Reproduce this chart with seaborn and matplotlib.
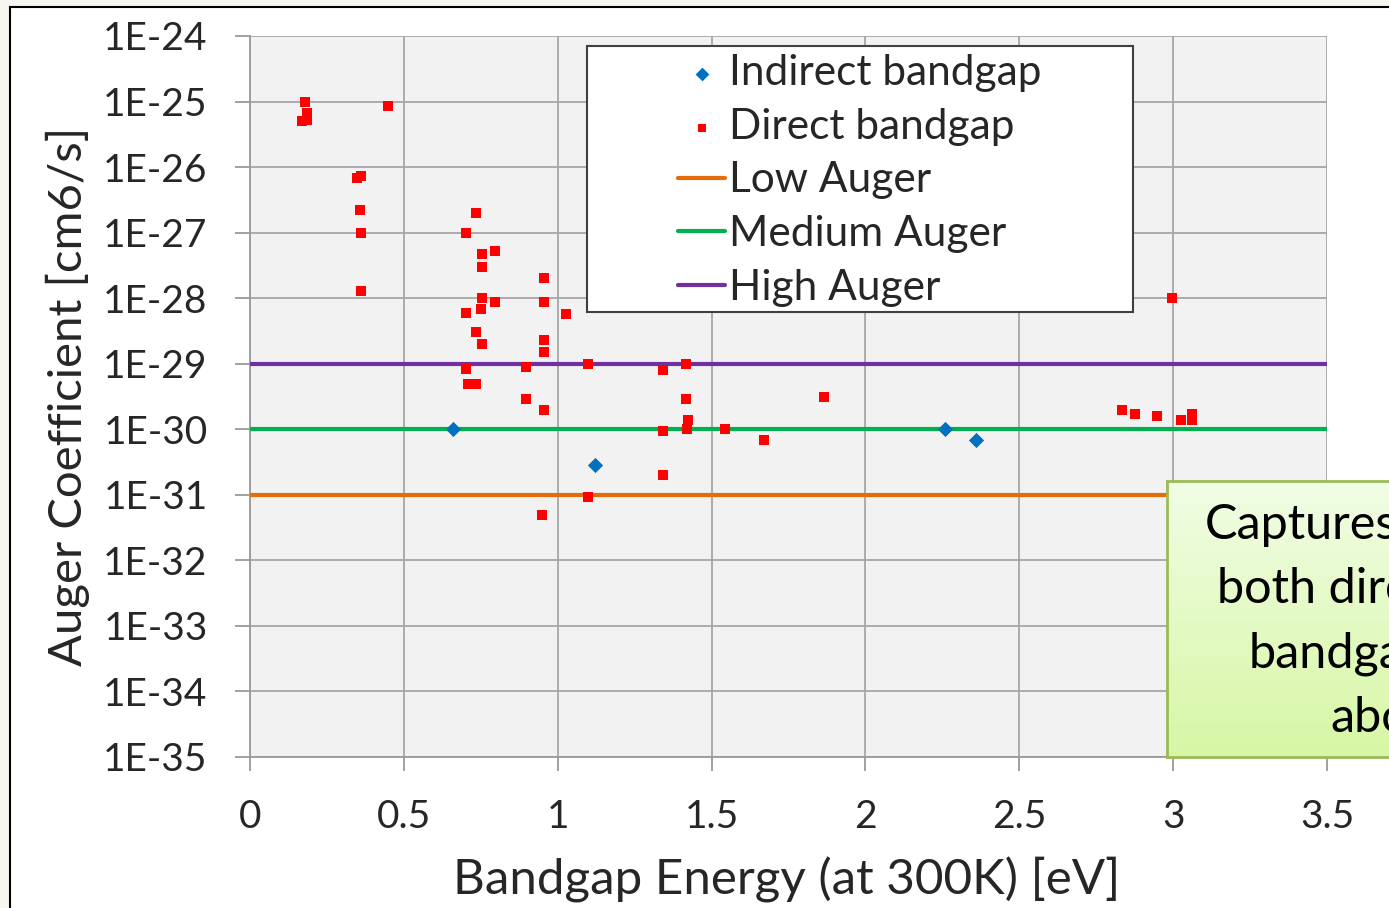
import numpy as np
import pandas as pd
import matplotlib
matplotlib.use("Agg")
import matplotlib.pyplot as plt
from matplotlib.patches import Rectangle
from matplotlib.ticker import FixedLocator, FuncFormatter
import seaborn as sns

# ---------------- data ----------------
indirect_x = [0.66, 1.12, 2.26, 2.36]
indirect_y = [1.0e-30, 2.9e-31, 1.0e-30, 6.8e-31]

direct_x = [0.18, 0.185, 0.17, 0.185, 0.45,
            0.347, 0.36, 0.357, 0.36, 0.36,
            0.736, 0.701, 0.754, 0.795, 0.754, 0.955, 0.754, 0.795, 0.955,
            0.701, 0.75, 1.028, 0.736, 0.754, 0.955, 0.955, 1.097, 0.701,
            0.897, 0.708, 0.735, 0.897, 0.955,
            1.341, 1.418, 1.418, 1.422, 1.42, 1.341, 1.545, 1.669, 1.341,
            1.097, 0.948, 1.865,
            2.995, 2.835, 2.875, 2.949, 3.025, 3.062, 3.062]
direct_y = [1.0e-25, 6.6e-26, 5.0e-26, 5.3e-26, 8.5e-26,
            6.7e-27, 7.2e-27, 2.2e-27, 1.0e-27, 1.3e-28,
            2.0e-27, 1.0e-27, 4.8e-28, 5.2e-28, 3.0e-28, 2.0e-28, 1.0e-28, 8.7e-29, 8.7e-29,
            6.0e-29, 6.9e-29, 5.8e-29, 3.0e-29, 2.0e-29, 2.3e-29, 1.5e-29, 1.0e-29, 8.3e-30,
            8.9e-30, 4.9e-30, 4.9e-30, 2.9e-30, 2.0e-30,
            8.1e-30, 1.0e-29, 2.9e-30, 1.4e-30, 1.0e-30, 9.3e-31, 1.0e-30, 6.8e-31, 2.0e-31,
            9.3e-32, 5.0e-32, 3.1e-30,
            1.0e-28, 2.0e-30, 1.7e-30, 1.6e-30, 1.4e-30, 1.7e-30, 1.4e-30]

level_names = ["Low Auger", "Medium Auger", "High Auger"]
level_values = [1e-31, 1e-30, 1e-29]
level_colors = ["#E46C0A", "#00B050", "#7030A0"]

x_ticks = [0, 0.5, 1, 1.5, 2, 2.5, 3, 3.5]
y_exponents = list(range(-35, -23))

callout_lines = ["Captures", "both direct", "bandgaps", "above"]

# ---------------- style ----------------
sns.set_style("white")
plt.rcParams["font.family"] = ["Lato", "DejaVu Sans"]

W, H = 1389, 908
fig = plt.figure(figsize=(W / 100, H / 100), dpi=100, facecolor="#f7f6f1")

# outer chart frame
fig.add_artist(Rectangle((10 / W, -0.05), 1.1, 1 - 7 / H + 0.05, transform=fig.transFigure,
                         facecolor="white", edgecolor="black", lw=1.5, zorder=-1))

L, R, T, B = 250, 1327, 36, 757
ax = fig.add_axes([L / W, 1 - B / H, (R - L) / W, (B - T) / H])
ax.set_facecolor("#f2f2f2")

ind_df = pd.DataFrame({"x": indirect_x, "y": indirect_y})
dir_df = pd.DataFrame({"x": direct_x, "y": direct_y})

sns.scatterplot(data=ind_df, x="x", y="y", ax=ax, marker="D", s=60, color="#0070C0",
                linewidth=0, label="Indirect bandgap", zorder=5)
sns.scatterplot(data=dir_df, x="x", y="y", ax=ax, marker="s", s=42, color="#FF0000",
                linewidth=0, label="Direct bandgap", zorder=6)
for name, val, col in zip(level_names, level_values, level_colors):
    sns.lineplot(x=[x_ticks[0], x_ticks[-1]], y=[val, val], ax=ax, color=col, lw=3,
                 label=name, zorder=4)

ax.set_yscale("log")
ax.set_xlim(0, 3.5)
ax.set_ylim(10.0 ** y_exponents[0], 10.0 ** y_exponents[-1])
ax.yaxis.set_major_locator(FixedLocator([10.0 ** e for e in y_exponents]))
ax.yaxis.set_minor_locator(FixedLocator([]))
ax.yaxis.set_major_formatter(FuncFormatter(lambda v, p: "1E%d" % int(round(np.log10(v)))))
ax.set_xticks(x_ticks)
ax.set_xticklabels(["%g" % t for t in x_ticks])

ax.grid(True, color="#a6a6a6", lw=1.3, zorder=0)
ax.set_axisbelow(True)
for s in ["top", "right"]:
    ax.spines[s].set_visible(False)
for s in ["left", "bottom"]:
    ax.spines[s].set_color("#9a9a9a")
    ax.spines[s].set_linewidth(1.3)

ax.tick_params(axis="y", which="major", direction="out", length=10.5, width=1.3,
               color="#9a9a9a", pad=20, labelsize=28, left=True)
ax.tick_params(axis="x", which="major", direction="out", length=10, width=1.3,
               color="#9a9a9a", pad=20, labelsize=28, bottom=True)

ax.set_xlabel("Bandgap Energy (at 300K) [eV]", fontsize=35.5)
ax.set_ylabel("Auger Coefficient [cm6/s]", fontsize=34)
ax.xaxis.set_label_coords(0.4986, -0.138)
ax.yaxis.set_label_coords(-0.169, 0.5)
ax.yaxis.label.set_va("center")

# legend with its own frame
fig.add_artist(Rectangle((587 / W, 1 - 312 / H), (1133 - 587) / W, (312 - 46) / H,
                         transform=fig.transFigure, facecolor="white", edgecolor="#404040",
                         lw=1.5, zorder=8))
leg = ax.legend(loc="upper left", bbox_to_anchor=(678 / W, 1 - 54 / H),
                bbox_transform=fig.transFigure, frameon=False, fontsize=30.5,
                handlelength=1.11, handletextpad=0.1, labelspacing=0.37,
                borderpad=0, borderaxespad=0, markerscale=0.9)
leg.set_zorder(9)
fig.add_artist(leg)

# callout box with gradient
cax = fig.add_axes([1167 / W, 1 - 757 / H, 260 / W, (757 - 481) / H])
grad = np.linspace(0, 1, 256).reshape(-1, 1)
top = np.array([0.945, 0.992, 0.898])
bot = np.array([0.843, 0.969, 0.647])
img = top[None, None, :] * (1 - grad[:, :, None]) + bot[None, None, :] * grad[:, :, None]
cax.imshow(img, aspect="auto", extent=[0, 1, 0, 1], origin="upper")
cax.set_xticks([])
cax.set_yticks([])
for s in cax.spines.values():
    s.set_color("#9bbb59")
    s.set_linewidth(2)
cax.set_zorder(10)

for txt, xs, yb in zip(callout_lines, [1205, 1217, 1249, 1330], [539, 603, 667, 732]):
    fig.text(xs / W, 1 - yb / H, txt, fontsize=35, ha="left", va="baseline",
             color="black", zorder=11)

fig.savefig("out.png", dpi=100, facecolor=fig.get_facecolor())
